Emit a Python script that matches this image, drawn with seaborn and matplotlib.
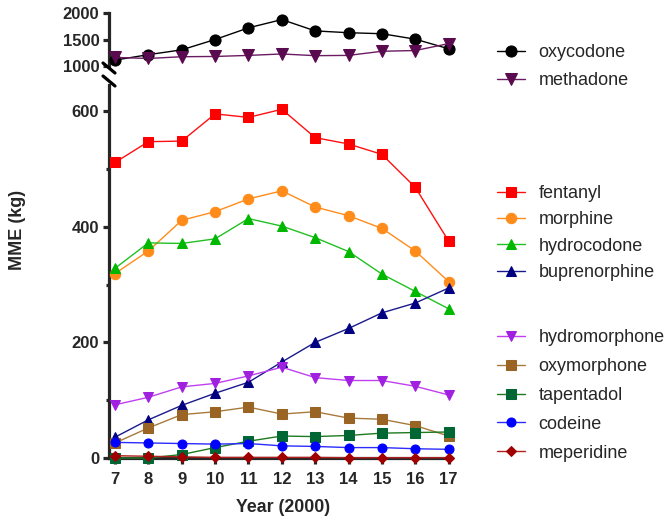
import numpy as np
import matplotlib
matplotlib.use("Agg")
import matplotlib.pyplot as plt
import seaborn as sns

# Years since 2000
years = [7, 8, 9, 10, 11, 12, 13, 14, 15, 16, 17]

# upper panel (kg MME)
oxycodone = [1111, 1214, 1305, 1500, 1720, 1876, 1662, 1628, 1609, 1506, 1325]
methadone = [1162, 1142, 1175, 1180, 1200, 1227, 1195, 1200, 1278, 1292, 1422]

# lower panel
fentanyl = [511, 547, 548, 595, 589, 603, 554, 543, 525, 468, 375]
morphine = [319, 358, 411, 426, 448, 462, 434, 419, 397, 358, 305]
hydrocodone = [328, 372, 371, 379, 414, 401, 381, 357, 318, 288, 258]
buprenorphine = [36, 66, 91, 112, 131, 166, 200, 224, 251, 268, 294]
hydromorphone = [92, 105, 123, 129, 142, 157, 139, 134, 134, 124, 109]
oxymorphone = [26, 52, 75, 80, 88, 76, 80, 69, 67, 56, 38]
tapentadol = [0, 0, 6, 18, 29, 38, 37, 39, 43, 44, 45]
codeine = [27, 26, 25, 24, 25, 21, 20, 18, 18, 16, 15]
meperidine = [4, 3, 2, 1, 1, 1, 1, 0.5, 0.5, 0.5, 0.5]

top_series = [
    ("oxycodone", oxycodone, "black", "black", "o", 8),
    ("methadone", methadone, "#6a1b62", "#5a0a4e", "v", 8),
]
group2 = [
    ("fentanyl", fentanyl, "#ff1010", "#ff0000", "s", 6.5),
    ("morphine", morphine, "#ff8c1a", "#ff8c1a", "o", 7.5),
    ("hydrocodone", hydrocodone, "#22c022", "#00b800", "^", 7),
    ("buprenorphine", buprenorphine, "#1a1a8c", "#000080", "^", 7),
]
group3 = [
    ("hydromorphone", hydromorphone, "#c040f0", "#a020e0", "v", 7),
    ("oxymorphone", oxymorphone, "#a87a3c", "#9a6524", "s", 7.5),
    ("tapentadol", tapentadol, "#1f7a1f", "#006633", "s", 7),
    ("codeine", codeine, "#2b2bff", "#0000ff", "o", 6.5),
    ("meperidine", meperidine, "#b02020", "#a00000", "D", 5.5),
]

sns.set_style("ticks")
plt.rcParams['font.family'] = ['Liberation Sans', 'DejaVu Sans']

W, H = 667, 522
fig = plt.figure(figsize=(W / 100, H / 100), dpi=100)
ax_top = fig.add_axes([109 / W, (H - 66) / H, (452 - 109) / W, (66 - 13) / H])
ax_bot = fig.add_axes([109 / W, (H - 458) / H, (452 - 109) / W, (458 - 85) / H])


def draw(ax, series):
    handles = []
    for name, vals, lc, mc, mk, ms in series:
        sns.lineplot(x=years, y=vals, ax=ax, color=lc, marker=mk, markersize=ms,
                     markerfacecolor=mc, markeredgecolor=mc, linewidth=1.0,
                     legend=False, clip_on=False, zorder=3)
        line = ax.lines[-1]
        line.set_label(name)
        handles.append(line)
    return handles


h1 = draw(ax_top, top_series)
h2 = draw(ax_bot, group2)
h3 = draw(ax_bot, group3)

for ax in (ax_top, ax_bot):
    ax.set_xlim(6.82, 17.1)
    for s in ("top", "right"):
        ax.spines[s].set_visible(False)
    for s in ("left", "bottom"):
        ax.spines[s].set_linewidth(2.3)
    ax.tick_params(width=2.3, length=4, labelsize=12, pad=3)

ax_top.set_ylim(1000, 2000)
ax_top.set_yticks([1000, 1500, 2000])
ax_top.set_yticklabels(["1000", "1500", "2000"], fontweight="bold")
ax_top.spines["bottom"].set_visible(False)
ax_top.set_xticks([])
ax_top.set_xlabel("")
ax_top.set_ylabel("")

ax_bot.set_ylim(0, 645)
ax_bot.set_yticks([0, 200, 400, 600])
ax_bot.set_yticklabels(["0", "200", "400", "600"], fontweight="bold")
ax_bot.set_yticks([100, 300, 500], minor=True)
ax_bot.tick_params(axis="y", which="minor", width=2.3, length=2.5)
ax_bot.set_xticks(years)
ax_bot.set_xticklabels([str(y) for y in years], fontweight="bold")
ax_bot.tick_params(axis="x", pad=6)
ax_bot.set_xlabel("")
ax_bot.set_ylabel("")

# break marks on the y axis
for y0 in (63, 76):
    fig.add_artist(plt.Line2D([103 / W, 115 / W], [(H - y0) / H, (H - y0 - 10) / H],
                              color="black", linewidth=2.3))

fig.text(18 / W, (H - 230) / H, "MME (kg)", rotation=90, fontsize=13,
         fontweight="bold", ha="center", va="center")
fig.text(283 / W, (H - 507) / H, "Year (2000)", fontsize=12.8,
         fontweight="bold", ha="center", va="center")

leg_kw = dict(frameon=False, fontsize=13, handlelength=1.55, handletextpad=0.75,
              borderaxespad=0, borderpad=0, loc="upper left")
fig.legend(handles=h1, bbox_to_anchor=(497 / W, (H - 44) / H), labelspacing=0.62, **leg_kw)
fig.legend(handles=h2, bbox_to_anchor=(497 / W, (H - 185) / H), labelspacing=0.52, **leg_kw)
fig.legend(handles=h3, bbox_to_anchor=(497 / W, (H - 329) / H), labelspacing=0.66, **leg_kw)

fig.savefig("out.png", dpi=100)
